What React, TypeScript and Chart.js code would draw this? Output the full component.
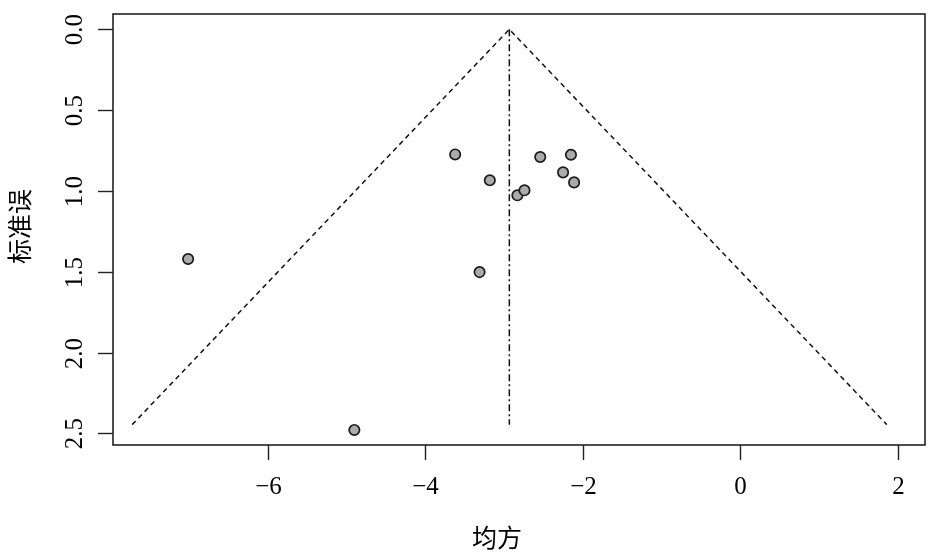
import React, { useEffect, useRef } from "react";
import { Chart, registerables } from "chart.js";

Chart.register(...registerables);

// Study effects (x) and standard errors (y)
const effectSizes = [-7.01, -4.9, -3.62, -3.18, -3.31, -2.83, -2.74, -2.54, -2.25, -2.15, -2.11];
const standardErrors = [1.421, 2.479, 0.774, 0.934, 1.502, 1.027, 0.996, 0.79, 0.885, 0.776, 0.947];

// Funnel outline and centre line
const funnelX = [-7.72, -2.932, 1.86];
const funnelY = [2.446, 0, 2.446];
const centerX = [-2.932, -2.932];
const centerY = [0, 2.446];

// Axes
const xTickValues = [-6, -4, -2, 0, 2];
const xTickLabels = ["\u22126", "\u22124", "\u22122", "0", "2"];
const yTickValues = [0, 0.5, 1, 1.5, 2, 2.5];
const yTickLabels = ["0.0", "0.5", "1.0", "1.5", "2.0", "2.5"];
const xTitle = "均方";
const yTitle = "标准误";
const xRange = [-7.964, 2.345];
const yRange = [-0.095, 2.572];

const toPoints = (xs: number[], ys: number[]) => xs.map((x, i) => ({ x, y: ys[i] }));

const axesPlugin = {
  id: "rAxes",
  afterDraw(chart: any) {
    const ctx = chart.ctx as CanvasRenderingContext2D;
    const { left, right, top, bottom } = chart.chartArea;
    const xs = chart.scales.x;
    const ys = chart.scales.y;
    ctx.save();
    ctx.strokeStyle = "#222";
    ctx.lineWidth = 1.6;
    ctx.strokeRect(left, top, right - left, bottom - top);

    const tickLen = 15;
    ctx.lineWidth = 1.4;
    ctx.fillStyle = "#000";
    ctx.font = "25px 'Liberation Serif', serif";
    // x ticks
    ctx.textAlign = "center";
    ctx.textBaseline = "middle";
    xTickValues.forEach((v, i) => {
      const px = Math.round(xs.getPixelForValue(v)) + 0.5;
      ctx.beginPath();
      ctx.moveTo(px, bottom);
      ctx.lineTo(px, bottom + tickLen);
      ctx.stroke();
      ctx.fillText(xTickLabels[i], px, bottom + 42);
    });
    // y ticks (rotated labels)
    yTickValues.forEach((v, i) => {
      const py = Math.round(ys.getPixelForValue(v)) + 0.5;
      ctx.beginPath();
      ctx.moveTo(left, py);
      ctx.lineTo(left - tickLen, py);
      ctx.stroke();
      ctx.save();
      ctx.translate(left - 38, py);
      ctx.rotate(-Math.PI / 2);
      ctx.fillText(yTickLabels[i], 0, 0);
      ctx.restore();
    });
    // titles
    ctx.font = "25px 'Noto Sans CJK SC', sans-serif";
    ctx.fillText(xTitle, (left + right) / 2 - 22, bottom + 92);
    ctx.save();
    ctx.translate(19, (top + bottom) / 2 - 3);
    ctx.rotate(-Math.PI / 2);
    ctx.fillText(yTitle, 0, 0);
    ctx.restore();
    ctx.restore();
  },
};

export default function App() {
  const canvasRef = useRef<HTMLCanvasElement | null>(null);

  useEffect(() => {
    document.body.style.margin = "0";
    const canvas = canvasRef.current;
    if (!canvas) return;
    const chart = new Chart(canvas, {
      type: "scatter",
      data: {
        datasets: [
          {
            label: "studies",
            data: toPoints(effectSizes, standardErrors),
            pointRadius: 5.2,
            pointBackgroundColor: "#ababab",
            pointBorderColor: "#1a1a1a",
            pointBorderWidth: 1.7,
            showLine: false,
          },
          {
            label: "centre",
            data: toPoints(centerX, centerY),
            showLine: true,
            borderColor: "#111",
            borderWidth: 1.5,
            borderDash: [7, 3, 2, 3],
            pointRadius: 0,
          },
          {
            label: "funnel",
            data: toPoints(funnelX, funnelY),
            showLine: true,
            borderColor: "#111",
            borderWidth: 1.5,
            borderDash: [5, 4],
            pointRadius: 0,
          },
        ],
      },
      options: {
        responsive: false,
        animation: false,
        events: [],
        layout: { padding: { left: 113, top: 14, right: 20, bottom: 115 } },
        plugins: { legend: { display: false }, tooltip: { enabled: false } },
        scales: {
          x: { type: "linear", display: false, min: xRange[0], max: xRange[1] },
          y: { type: "linear", display: false, reverse: true, min: yRange[0], max: yRange[1] },
        },
      },
      plugins: [axesPlugin],
    });
    return () => chart.destroy();
  }, []);

  return (
    <div style={{ width: 945, height: 560, background: "#fff" }}>
      <canvas ref={canvasRef} width={945} height={560} style={{ display: "block" }} />
    </div>
  );
}
